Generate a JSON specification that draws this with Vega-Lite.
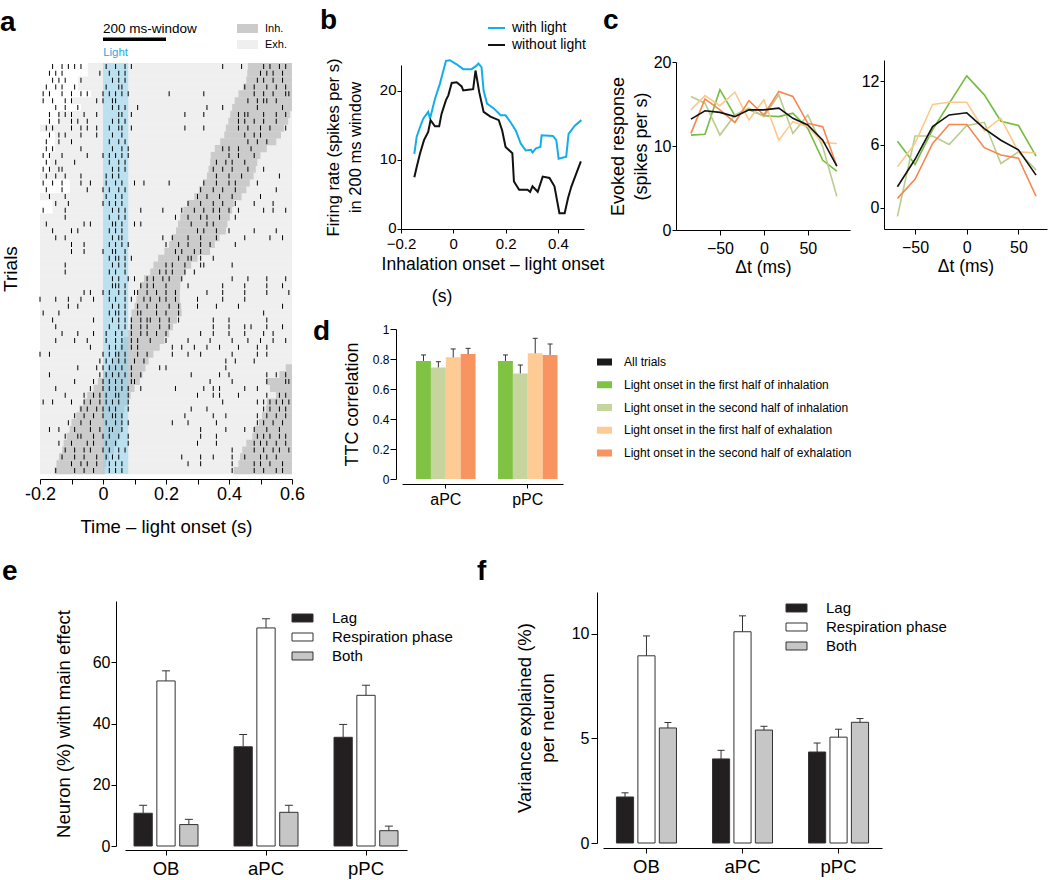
{
  "$schema": "https://vega.github.io/schema/vega-lite/v6.json",
  "width": 1050,
  "height": 880,
  "autosize": {"type": "none"},
  "padding": 0,
  "background": "white",
  "config": {
    "font": "Liberation Sans",
    "view": {"stroke": null},
    "axis": {"grid": false, "domainColor": "#000", "tickColor": "#000", "labelColor": "#000", "titleColor": "#000", "titleFontWeight": "normal", "minExtent": 0, "maxExtent": 300, "labelFlush": false, "labelOverlap": false, "titleFont": "Liberation Sans", "labelFont": "Liberation Sans"},
    "legend": {"padding": 0, "labelColor": "#000", "labelFont": "Liberation Sans", "labelLimit": 400}
  },
  "datasets": {
    "rast": [
      {"tr":1,"ex":-0.048,"i0":0.46,"i1":0.6,"sp":[-0.16,-0.13,-0.11,-0.09,-0.07,0.01,0.04,0.07,0.09,0.38,0.44,0.51,0.53,0.56,0.58]},
      {"tr":2,"ex":-0.048,"i0":0.458,"i1":0.6,"sp":[-0.17,-0.15,-0.13,-0.01,0.02,0.05,0.07,0.5,0.52,0.54,0.57]},
      {"tr":3,"ex":-0.079,"i0":0.455,"i1":0.6,"sp":[-0.16,-0.14,-0.12,-0.07,0.03,0.05,0.07,0.49,0.51,0.54,0.57]},
      {"tr":4,"ex":-0.079,"i0":0.445,"i1":0.6,"sp":[-0.18,-0.15,-0.13,-0.09,0.01,0.05,0.06,0.45,0.48,0.52,0.55,0.58]},
      {"tr":5,"ex":-0.038,"i0":0.43,"i1":0.6,"sp":[-0.19,-0.17,-0.13,-0.1,-0.07,-0.05,0.0,0.02,0.04,0.06,0.08,0.21,0.32,0.48,0.51,0.54,0.58,0.59]},
      {"tr":6,"ex":-0.1,"i0":0.418,"i1":0.6,"sp":[-0.19,-0.16,-0.12,-0.1,-0.02,0.0,0.03,0.04,0.46,0.49,0.51,0.52,0.55]},
      {"tr":7,"ex":-0.07,"i0":0.41,"i1":0.6,"sp":[-0.15,-0.12,-0.08,0.03,0.05,0.07,0.11,0.33,0.38,0.49,0.57]},
      {"tr":8,"ex":-0.143,"i0":0.404,"i1":0.594,"sp":[-0.17,-0.14,-0.12,-0.1,-0.06,-0.02,0.05,0.06,0.09,0.26,0.32,0.43,0.45,0.46,0.51,0.55,0.58]},
      {"tr":9,"ex":-0.143,"i0":0.398,"i1":0.588,"sp":[-0.17,-0.14,-0.1,-0.08,-0.05,0.03,0.05,0.07,0.43,0.45,0.48,0.51,0.55]},
      {"tr":10,"ex":-0.2,"i0":0.39,"i1":0.575,"sp":[-0.18,-0.16,-0.1,-0.07,-0.05,-0.02,0.02,0.05,0.06,0.09,0.26,0.32,0.43,0.46,0.5,0.53,0.58]},
      {"tr":11,"ex":-0.152,"i0":0.385,"i1":0.565,"sp":[-0.17,-0.14,-0.12,-0.07,-0.02,0.03,0.06,0.45,0.48,0.5]},
      {"tr":12,"ex":-0.152,"i0":0.372,"i1":0.55,"sp":[-0.18,-0.14,-0.1,0.02,0.05,0.07,0.46,0.49,0.52]},
      {"tr":13,"ex":-0.152,"i0":0.355,"i1":0.52,"sp":[-0.18,-0.16,-0.07,0.03,0.06,0.08,0.38,0.4,0.43,0.47]},
      {"tr":14,"ex":-0.168,"i0":0.342,"i1":0.5,"sp":[-0.19,-0.17,-0.13,-0.05,0.0,0.02,0.04,0.06,0.08,0.4,0.43,0.48]},
      {"tr":15,"ex":-0.168,"i0":0.34,"i1":0.49,"sp":[-0.18,-0.15,-0.09,0.02,0.05,0.07,0.36,0.39,0.41,0.45]},
      {"tr":16,"ex":-0.168,"i0":0.335,"i1":0.485,"sp":[-0.19,-0.17,-0.14,-0.13,0.03,0.05,0.07,0.35,0.38,0.41,0.46,0.51]},
      {"tr":17,"ex":-0.2,"i0":0.33,"i1":0.478,"sp":[-0.18,-0.15,-0.12,-0.07,0.01,0.03,0.05,0.36,0.4,0.44,0.56]},
      {"tr":18,"ex":-0.105,"i0":0.318,"i1":0.466,"sp":[-0.19,-0.16,-0.13,-0.07,-0.04,0.01,0.04,0.06,0.1,0.13,0.21,0.32,0.36,0.4,0.42,0.49]},
      {"tr":19,"ex":-0.105,"i0":0.305,"i1":0.455,"sp":[-0.18,-0.13,-0.05,0.0,0.02,0.05,0.07,0.31,0.35,0.38,0.42,0.55]},
      {"tr":20,"ex":-0.2,"i0":0.29,"i1":0.44,"sp":[-0.17,-0.12,0.01,0.04,0.06,0.3,0.33,0.37,0.41,0.5]},
      {"tr":21,"ex":-0.16,"i0":0.268,"i1":0.415,"sp":[-0.15,-0.11,0.0,0.02,0.04,0.06,0.27,0.31,0.35,0.38,0.42,0.48,0.54]},
      {"tr":22,"ex":-0.16,"i0":0.255,"i1":0.41,"sp":[-0.19,-0.12,0.03,0.05,0.07,0.12,0.19,0.25,0.29,0.32,0.35,0.37,0.4,0.43,0.51,0.54,0.58]},
      {"tr":23,"ex":-0.2,"i0":0.245,"i1":0.403,"sp":[-0.12,0.02,0.05,0.07,0.23,0.27,0.31,0.33,0.37,0.42]},
      {"tr":24,"ex":-0.2,"i0":0.238,"i1":0.395,"sp":[-0.18,-0.06,-0.04,0.03,0.04,0.06,0.1,0.12,0.28,0.33,0.35]},
      {"tr":25,"ex":-0.2,"i0":0.232,"i1":0.39,"sp":[-0.16,-0.1,-0.08,0.02,0.04,0.06,0.3,0.32,0.36,0.4,0.48,0.55]},
      {"tr":26,"ex":-0.2,"i0":0.22,"i1":0.37,"sp":[-0.15,-0.12,0.03,0.05,0.06,0.19,0.22,0.27,0.31,0.36,0.45,0.53,0.57]},
      {"tr":27,"ex":-0.2,"i0":0.21,"i1":0.355,"sp":[-0.1,-0.06,0.02,0.04,0.06,0.08,0.2,0.24,0.27,0.31,0.34,0.42]},
      {"tr":28,"ex":-0.2,"i0":0.195,"i1":0.34,"sp":[-0.1,-0.06,0.0,0.03,0.04,0.07,0.23,0.25,0.29,0.31]},
      {"tr":29,"ex":-0.2,"i0":0.175,"i1":0.3,"sp":[0.02,0.04,0.05,0.07,0.09,0.24,0.27,0.28,0.31,0.35]},
      {"tr":30,"ex":-0.2,"i0":0.16,"i1":0.28,"sp":[-0.12,0.03,0.05,0.07,0.2,0.22,0.26,0.31,0.32,0.41]},
      {"tr":31,"ex":-0.2,"i0":0.15,"i1":0.262,"sp":[-0.12,0.02,0.04,0.07,0.18,0.2,0.22,0.26,0.29]},
      {"tr":32,"ex":-0.2,"i0":0.13,"i1":0.25,"sp":[0.03,0.05,0.08,0.1,0.14,0.16,0.19,0.21,0.25,0.41,0.46,0.52,0.58]},
      {"tr":33,"ex":-0.2,"i0":0.118,"i1":0.245,"sp":[0.03,0.04,0.05,0.07,0.12,0.14,0.16,0.2,0.27,0.38,0.45,0.52,0.57]},
      {"tr":34,"ex":-0.2,"i0":0.112,"i1":0.244,"sp":[-0.06,-0.04,0.0,0.02,0.05,0.07,0.1,0.11,0.14,0.17,0.2,0.23,0.33,0.38,0.45,0.52,0.59]},
      {"tr":35,"ex":-0.2,"i0":0.106,"i1":0.244,"sp":[-0.2,-0.15,-0.11,-0.07,-0.03,0.02,0.04,0.07,0.09,0.13,0.15,0.18,0.2,0.23,0.3,0.38,0.45]},
      {"tr":36,"ex":-0.2,"i0":0.1,"i1":0.248,"sp":[-0.11,-0.08,0.03,0.05,0.07,0.11,0.14,0.17,0.21,0.24,0.3,0.36,0.43,0.57]},
      {"tr":37,"ex":-0.2,"i0":0.09,"i1":0.25,"sp":[-0.19,-0.14,0.02,0.04,0.05,0.07,0.11,0.12,0.17,0.2,0.24,0.51]},
      {"tr":38,"ex":-0.2,"i0":0.088,"i1":0.235,"sp":[-0.16,-0.03,0.03,0.05,0.07,0.09,0.12,0.14,0.15,0.18,0.21,0.24,0.35,0.4,0.52]},
      {"tr":39,"ex":-0.2,"i0":0.085,"i1":0.222,"sp":[-0.15,0.02,0.05,0.07,0.09,0.12,0.14,0.18,0.21,0.35,0.4,0.45,0.47,0.52,0.57]},
      {"tr":40,"ex":-0.2,"i0":0.08,"i1":0.21,"sp":[-0.13,-0.08,-0.03,0.01,0.04,0.06,0.09,0.12,0.14,0.17,0.2,0.31,0.35,0.4,0.45,0.51,0.54]},
      {"tr":41,"ex":-0.2,"i0":0.065,"i1":0.195,"sp":[-0.15,-0.09,-0.05,0.01,0.04,0.06,0.09,0.11,0.15,0.2,0.27,0.34,0.41,0.46,0.5,0.54,0.58]},
      {"tr":42,"ex":-0.2,"i0":0.053,"i1":0.18,"sp":[-0.04,0.02,0.04,0.06,0.09,0.11,0.22,0.25,0.29,0.33,0.37,0.43,0.49,0.52]},
      {"tr":43,"ex":-0.2,"i0":0.04,"i1":0.16,"sp":[-0.2,-0.17,0.0,0.02,0.04,0.05,0.07,0.11,0.14,0.22,0.27,0.31,0.41,0.49,0.52]},
      {"tr":44,"ex":-0.2,"i0":0.028,"i1":0.145,"sp":[-0.01,0.01,0.03,0.05,0.07,0.1,0.13,0.39,0.42,0.48]},
      {"tr":45,"ex":-0.2,"i0":0.018,"i1":0.135,"j0":0.58,"sp":[-0.08,-0.02,0.0,0.02,0.04,0.06,0.09,0.18,0.2,0.39]},
      {"tr":46,"ex":-0.2,"i0":0.0,"i1":0.125,"j0":0.56,"sp":[-0.17,-0.01,0.01,0.03,0.05,0.07,0.09,0.12,0.28,0.37,0.4,0.52,0.55,0.58]},
      {"tr":47,"ex":-0.2,"i0":-0.016,"i1":0.117,"j0":0.517,"sp":[-0.09,-0.03,0.0,0.02,0.04,0.06,0.09,0.1,0.34,0.41,0.52,0.58,0.59]},
      {"tr":48,"ex":-0.2,"i0":-0.03,"i1":0.1,"j0":0.53,"sp":[-0.15,-0.04,0.0,0.02,0.04,0.06,0.08,0.12,0.23,0.32,0.35,0.37,0.45,0.49]},
      {"tr":49,"ex":-0.2,"i0":-0.05,"i1":0.088,"j0":0.549,"sp":[-0.12,-0.06,-0.03,-0.01,0.01,0.04,0.05,0.08,0.3,0.35,0.37,0.43,0.52,0.56,0.58]},
      {"tr":50,"ex":-0.2,"i0":-0.06,"i1":0.078,"j0":0.52,"sp":[-0.19,-0.16,-0.1,-0.06,-0.04,-0.01,0.01,0.03,0.05,0.08,0.38,0.49,0.51,0.53,0.55,0.57,0.59]},
      {"tr":51,"ex":-0.2,"i0":-0.075,"i1":0.068,"j0":0.517,"sp":[-0.07,-0.05,-0.02,0.0,0.02,0.04,0.08,0.28,0.33,0.51,0.53,0.56,0.58]},
      {"tr":52,"ex":-0.2,"i0":-0.085,"i1":0.064,"j0":0.505,"sp":[-0.09,-0.06,-0.03,0.0,0.03,0.04,0.06,0.26,0.35,0.39,0.49,0.52,0.55,0.58]},
      {"tr":53,"ex":-0.2,"i0":-0.1,"i1":0.06,"j0":0.495,"sp":[-0.11,-0.07,-0.04,0.01,0.04,0.06,0.08,0.22,0.27,0.36,0.49,0.51,0.54,0.57]},
      {"tr":54,"ex":-0.2,"i0":-0.106,"i1":0.058,"j0":0.48,"sp":[-0.17,-0.14,-0.09,-0.04,-0.01,0.02,0.03,0.06,0.31,0.39,0.45,0.48,0.52,0.56]},
      {"tr":55,"ex":-0.2,"i0":-0.115,"i1":0.052,"j0":0.474,"sp":[-0.12,-0.08,-0.07,-0.03,0.0,0.02,0.05,0.08,0.31,0.36,0.49,0.51,0.53,0.56,0.58]},
      {"tr":56,"ex":-0.2,"i0":-0.125,"i1":0.045,"j0":0.455,"sp":[-0.14,-0.1,-0.05,-0.03,0.01,0.04,0.08,0.3,0.36,0.48,0.5,0.52,0.55,0.58]},
      {"tr":57,"ex":-0.2,"i0":-0.13,"i1":0.035,"j0":0.442,"sp":[-0.12,-0.09,-0.06,-0.04,0.0,0.02,0.05,0.07,0.41,0.48,0.51,0.54,0.56,0.59]},
      {"tr":58,"ex":-0.2,"i0":-0.14,"i1":0.02,"j0":0.435,"sp":[-0.13,-0.09,-0.06,-0.02,0.01,0.03,0.05,0.25,0.31,0.35,0.41,0.45,0.5,0.52,0.55]},
      {"tr":59,"ex":-0.2,"i0":-0.148,"i1":0.01,"j0":0.43,"sp":[-0.1,-0.07,-0.05,-0.02,0.02,0.04,0.06,0.27,0.31,0.41,0.48,0.5,0.53,0.57]},
      {"tr":60,"ex":-0.2,"i0":-0.154,"i1":0.005,"j0":0.415,"sp":[-0.15,-0.09,-0.06,-0.03,0.02,0.04,0.06,0.41,0.48,0.51,0.55,0.57]}
    ],
    "lineB": [
      {"s":"with light","x":[-0.149,-0.14,-0.127,-0.115,-0.096,-0.089,-0.07,-0.051,-0.028,-0.013,0.013,0.038,0.07,0.089,0.096,0.103,0.108,0.116,0.129,0.155,0.181,0.2,0.219,0.239,0.258,0.277,0.297,0.303,0.316,0.333,0.338,0.381,0.394,0.403,0.432,0.441,0.465,0.49],
       "y":[10.9,13.4,14.8,16.0,17.0,16.0,18.9,21.1,24.4,24.5,23.9,23.2,23.2,23.7,24.0,23.7,23.5,20.1,18.2,17.5,16.5,16.5,15.5,14.3,12.4,11.4,11.5,11.1,11.7,11.9,13.6,13.5,12.9,10.2,10.5,13.8,15.0,15.8]},
      {"s":"without light","x":[-0.149,-0.14,-0.127,-0.112,-0.096,-0.087,-0.07,-0.054,-0.045,-0.028,-0.019,-0.006,0.013,0.032,0.038,0.057,0.076,0.085,0.092,0.099,0.116,0.142,0.174,0.187,0.2,0.226,0.232,0.252,0.284,0.294,0.303,0.323,0.342,0.368,0.387,0.406,0.426,0.439,0.452,0.471,0.488],
       "y":[7.5,9.0,11.0,12.9,14.1,15.8,14.9,14.9,16.7,18.7,19.4,21.2,21.3,20.7,20.1,20.2,20.3,23.0,21.5,19.9,17.0,16.3,15.8,14.3,11.9,11.0,6.9,5.7,5.7,5.4,6.2,5.4,7.6,7.4,6.2,2.3,2.3,4.5,6.2,8.1,9.8]}
    ],
    "c1": [
      {"cat":"Light onset in the first half of inhalation","dt":[-83,-67,-50,-33,-17,0,17,33,50,67,83],"v":[11.3,11.4,16.7,13.6,14.3,13.6,13.5,13.9,12.1,8.3,7.0]},
      {"cat":"Light onset in the second half of inhalation","dt":[-83,-67,-50,-33,-17,0,17,33,50,67,83],"v":[15.9,15.1,11.3,13.7,14.5,13.5,16.1,11.5,13.7,9.9,4.0]},
      {"cat":"Light onset in the first half of exhalation","dt":[-83,-67,-50,-33,-17,0,17,33,50,67,83],"v":[14.3,16.0,14.8,16.4,13.1,15.5,10.7,12.9,12.3,10.4,10.3]},
      {"cat":"Light onset in the second half of exhalation","dt":[-83,-67,-50,-33,-17,0,17,33,50,67,83],"v":[11.5,15.6,14.3,12.8,15.4,13.7,16.5,15.9,12.7,12.3,7.6]},
      {"cat":"All trials","dt":[-83,-67,-50,-33,-17,0,17,33,50,67,83],"v":[13.2,14.2,14.0,13.5,14.3,14.3,14.5,13.3,12.5,10.7,7.6]}
    ],
    "c2": [
      {"cat":"Light onset in the first half of inhalation","dt":[-67,-50,-33,-17,0,17,33,50,67],"v":[6.3,4.1,7.4,9.9,12.5,10.7,8.2,7.8,4.9]},
      {"cat":"Light onset in the second half of inhalation","dt":[-67,-50,-33,-17,0,17,33,50,67],"v":[-0.8,6.8,6.8,6.0,7.8,8.1,4.2,5.3,3.6]},
      {"cat":"Light onset in the first half of exhalation","dt":[-67,-50,-33,-17,0,17,33,50,67],"v":[3.9,6.1,9.8,10.0,10.0,7.3,8.5,5.3,5.2]},
      {"cat":"Light onset in the second half of exhalation","dt":[-67,-50,-33,-17,0,17,33,50,67],"v":[0.9,2.7,6.1,7.9,7.9,5.7,5.0,4.7,1.1]},
      {"cat":"All trials","dt":[-67,-50,-33,-17,0,17,33,50,67],"v":[2.0,4.6,7.7,8.8,9.0,7.5,6.4,5.5,3.1]}
    ],
    "dBars": [
      {"g":"aPC","cat":"Light onset in the first half of inhalation","v":0.787,"e":0.827},
      {"g":"aPC","cat":"Light onset in the second half of inhalation","v":0.744,"e":0.782},
      {"g":"aPC","cat":"Light onset in the first half of exhalation","v":0.811,"e":0.867},
      {"g":"aPC","cat":"Light onset in the second half of exhalation","v":0.833,"e":0.871},
      {"g":"pPC","cat":"Light onset in the first half of inhalation","v":0.787,"e":0.827},
      {"g":"pPC","cat":"Light onset in the second half of inhalation","v":0.704,"e":0.76},
      {"g":"pPC","cat":"Light onset in the first half of exhalation","v":0.838,"e":0.938},
      {"g":"pPC","cat":"Light onset in the second half of exhalation","v":0.827,"e":0.9}
    ],
    "eBars": [
      {"g":"OB","s":"Lag","v":10.7,"e":13.3},
      {"g":"OB","s":"Respiration phase","v":53.9,"e":57.2},
      {"g":"OB","s":"Both","v":7.0,"e":8.7},
      {"g":"aPC","s":"Lag","v":32.4,"e":36.4},
      {"g":"aPC","s":"Respiration phase","v":71.2,"e":74.2},
      {"g":"aPC","s":"Both","v":11.0,"e":13.3},
      {"g":"pPC","s":"Lag","v":35.5,"e":39.7},
      {"g":"pPC","s":"Respiration phase","v":49.2,"e":52.5},
      {"g":"pPC","s":"Both","v":5.0,"e":6.5}
    ],
    "fBars": [
      {"g":"OB","s":"Lag","v":2.2,"e":2.4},
      {"g":"OB","s":"Respiration phase","v":8.95,"e":9.9},
      {"g":"OB","s":"Both","v":5.5,"e":5.76},
      {"g":"aPC","s":"Lag","v":4.02,"e":4.43},
      {"g":"aPC","s":"Respiration phase","v":10.1,"e":10.86},
      {"g":"aPC","s":"Both","v":5.4,"e":5.58},
      {"g":"pPC","s":"Lag","v":4.35,"e":4.78},
      {"g":"pPC","s":"Respiration phase","v":5.06,"e":5.44},
      {"g":"pPC","s":"Both","v":5.77,"e":5.95}
    ]
  },
  "layer": [
    {
      "layer": [
        {
          "data": {"name": "rast"},
          "mark": {"type": "bar", "orient": "horizontal", "size": 7.1},
          "encoding": {
            "y": {"field": "tr", "type": "quantitative", "scale": {"domain": [0.5, 60.5], "range": [58, 479], "nice": false, "zero": false},
                  "axis": {"orient": "left", "offset": -40, "domain": false, "ticks": false, "labels": false, "title": "Trials", "titleFontSize": 19, "titlePadding": 20}},
            "x": {"field": "ex", "type": "quantitative", "scale": {"domain": [-0.2, 0.6], "range": [40, 292], "nice": false, "zero": false},
                  "axis": {"orient": "bottom", "offset": -401, "values": [-0.2,-0.1,0,0.1,0.2,0.3,0.4,0.5,0.6], "labelExpr": "abs(round(datum.value*10)) % 2 == 1 ? '' : (datum.value < 0 ? '-' + format(-datum.value, '~g') : format(datum.value, '~g'))", "tickSize": 5, "labelPadding": 1, "labelFontSize": 18, "title": "Time – light onset (s)", "titleFontSize": 18.5, "titlePadding": 14}},
            "x2": {"datum": 0.6},
            "color": {"datum": "Exh.", "type": "nominal", "scale": {"domain": ["Inh.", "Exh."], "range": ["#cbcbcb", "#efefef"]},
                      "legend": {"orient": "none", "legendX": 237, "legendY": 18, "title": null, "symbolType": "M-1,-0.43H1V0.43H-1Z", "symbolSize": 441, "symbolStrokeWidth": 0, "labelFontSize": 11, "labelOffset": 7, "rowPadding": -7}}
          }
        },
        {
          "data": {"name": "rast"},
          "mark": {"type": "bar", "orient": "horizontal", "size": 7.1},
          "encoding": {
            "y": {"field": "tr", "type": "quantitative"},
            "x": {"field": "i0", "type": "quantitative"},
            "x2": {"field": "i1"},
            "color": {"datum": "Inh.", "type": "nominal"}
          }
        },
        {
          "data": {"name": "rast"},
          "transform": [{"filter": "isValid(datum.j0)"}],
          "mark": {"type": "bar", "orient": "horizontal", "size": 7.1},
          "encoding": {
            "y": {"field": "tr", "type": "quantitative"},
            "x": {"field": "j0", "type": "quantitative"},
            "x2": {"datum": 0.6},
            "color": {"datum": "Inh.", "type": "nominal"}
          }
        },
        {
          "data": {"values": [{"on": 0, "off": 0.08}]},
          "mark": {"type": "rect", "fill": "#8fd3ee", "opacity": 0.55},
          "encoding": {
            "x": {"field": "on", "type": "quantitative"},
            "x2": {"field": "off"},
            "y": {"datum": 0.5, "type": "quantitative"},
            "y2": {"datum": 60.5}
          }
        },
        {
          "data": {"name": "rast"},
          "transform": [{"flatten": ["sp"], "as": ["s"]}],
          "mark": {"type": "tick", "orient": "vertical", "size": 5, "thickness": 1, "color": "#000", "opacity": 1},
          "encoding": {
            "x": {"field": "s", "type": "quantitative"},
            "y": {"field": "tr", "type": "quantitative"}
          }
        },
        {
          "data": {"values": [{"t0": 0, "t1": 0.2, "tr": -2.96}]},
          "mark": {"type": "rule", "color": "#000", "strokeWidth": 3.5},
          "encoding": {
            "x": {"field": "t0", "type": "quantitative"},
            "x2": {"field": "t1"},
            "y": {"field": "tr", "type": "quantitative"}
          }
        },
        {
          "data": {"values": [{"txt": "200 ms-window", "t": 0, "tr": -3.92}]},
          "mark": {"type": "text", "align": "left", "baseline": "alphabetic", "fontSize": 13.5, "color": "#000"},
          "encoding": {"x": {"field": "t", "type": "quantitative"}, "y": {"field": "tr", "type": "quantitative"}, "text": {"field": "txt"}}
        },
        {
          "data": {"values": [{"txt": "Light", "t": 0.04, "tr": -0.47}]},
          "mark": {"type": "text", "align": "center", "baseline": "alphabetic", "fontSize": 11.5, "color": "#29abe2"},
          "encoding": {"x": {"field": "t", "type": "quantitative"}, "y": {"field": "tr", "type": "quantitative"}, "text": {"field": "txt"}}
        },
        {
          "data": {"values": [
            {"L": "a", "t": -0.327, "tr": -4.2},
            {"L": "b", "t": 0.689, "tr": -4.49},
            {"L": "c", "t": 1.587, "tr": -4.49},
            {"L": "d", "t": 0.667, "tr": 40.98},
            {"L": "e", "t": -0.321, "tr": 76.03},
            {"L": "f", "t": 1.187, "tr": 76.03}
          ]},
          "mark": {"type": "text", "align": "left", "baseline": "alphabetic", "fontSize": 28, "fontWeight": "bold", "color": "#000"},
          "encoding": {"x": {"field": "t", "type": "quantitative"}, "y": {"field": "tr", "type": "quantitative"}, "text": {"field": "L"}}
        }
      ]
    },
    {
      "layer": [
        {
          "data": {"name": "lineB"},
          "transform": [{"flatten": ["x", "y"], "as": ["xv", "yv"]}],
          "mark": {"type": "line", "strokeWidth": 2},
          "encoding": {
            "x": {"field": "xv", "type": "quantitative", "scale": {"domain": [-0.2, 0.5], "range": [401, 584], "nice": false, "zero": false},
                  "axis": {"orient": "bottom", "offset": -651, "values": [-0.2, 0, 0.2, 0.4], "labelExpr": "format(datum.value, '~g')", "tickSize": 4, "labelPadding": 3, "labelFontSize": 15, "title": "Inhalation onset – light onset", "titleFontSize": 17.5, "titlePadding": 4}},
            "y": {"field": "yv", "type": "quantitative", "scale": {"domain": [0, 23.8], "range": [229, 65], "nice": false, "zero": false},
                  "axis": {"orient": "left", "offset": -401, "values": [0, 10, 20], "labelExpr": "format(datum.value, '~g')", "labelOffset": -1.5, "tickSize": 4, "labelPadding": 1, "labelFontSize": 15, "title": ["Firing rate (spikes per s)", "in 200 ms window"], "titleFontSize": 16.5, "titleLineHeight": 22, "titlePadding": 16}},
            "color": {"field": "s", "type": "nominal", "scale": {"domain": ["with light", "without light"], "range": ["#13aee8", "#111111"]},
                      "legend": {"orient": "none", "legendX": 487, "legendY": 18.5, "title": null, "symbolType": "stroke", "symbolSize": 289, "symbolStrokeWidth": 2, "labelFontSize": 14, "labelOffset": 6, "rowPadding": -4}}
          }
        },
        {
          "data": {"values": [{"txt": "(s)", "xv": -0.043, "yv": -9.86}]},
          "mark": {"type": "text", "align": "center", "baseline": "middle", "fontSize": 17.5, "color": "#000"},
          "encoding": {"x": {"field": "xv", "type": "quantitative"}, "y": {"field": "yv", "type": "quantitative"}, "text": {"field": "txt"}}
        }
      ]
    },
    {
      "data": {"name": "c1"},
      "transform": [{"flatten": ["dt", "v"]}],
      "mark": {"type": "line", "strokeWidth": 1.6},
      "encoding": {
        "x": {"field": "dt", "type": "quantitative", "scale": {"domain": [-100, 98], "range": [676, 850], "nice": false, "zero": false},
              "axis": {"orient": "bottom", "offset": -650, "values": [-50, 0, 50], "labelExpr": "format(datum.value, '~g')", "tickSize": 5, "labelPadding": 5, "labelFontSize": 16, "title": "Δt (ms)", "titleFontSize": 17.5, "titlePadding": 2}},
        "y": {"field": "v", "type": "quantitative", "scale": {"domain": [0, 20], "range": [230, 62], "nice": false, "zero": false},
              "axis": {"orient": "left", "offset": -676, "values": [0, 10, 20], "labelExpr": "format(datum.value, '~g')", "tickSize": 4, "labelPadding": 1, "labelFontSize": 16, "title": ["Evoked response", "(spikes per s)"], "titleFontSize": 18, "titleLineHeight": 23, "titlePadding": 3}},
        "color": {"field": "cat", "type": "nominal", "legend": null,
                  "scale": {"domain": ["All trials", "Light onset in the first half of inhalation", "Light onset in the second half of inhalation", "Light onset in the first half of exhalation", "Light onset in the second half of exhalation"],
                            "range": ["#111111", "#74bd3f", "#b9cc8c", "#fdc88c", "#f5874f"]}}
      }
    },
    {
      "data": {"name": "c2"},
      "transform": [{"flatten": ["dt", "v"]}],
      "mark": {"type": "line", "strokeWidth": 1.6},
      "encoding": {
        "x": {"field": "dt", "type": "quantitative", "scale": {"domain": [-80, 77.6], "range": [884, 1047], "nice": false, "zero": false},
              "axis": {"orient": "bottom", "offset": -651, "values": [-50, 0, 50], "labelExpr": "format(datum.value, '~g')", "tickSize": 5, "labelPadding": 5, "labelFontSize": 16, "title": "Δt (ms)", "titleFontSize": 17.5, "titlePadding": 2}},
        "y": {"field": "v", "type": "quantitative", "scale": {"domain": [-2, 14], "range": [229, 60], "nice": false, "zero": false},
              "axis": {"orient": "left", "offset": -884, "values": [0, 6, 12], "labelExpr": "format(datum.value, '~g')", "tickSize": 4, "labelPadding": 1, "labelFontSize": 16, "title": null}},
        "color": {"field": "cat", "type": "nominal", "legend": null,
                  "scale": {"domain": ["All trials", "Light onset in the first half of inhalation", "Light onset in the second half of inhalation", "Light onset in the first half of exhalation", "Light onset in the second half of exhalation"],
                            "range": ["#111111", "#74bd3f", "#b9cc8c", "#fdc88c", "#f5874f"]}}
      }
    },
    {
      "data": {"name": "dBars"},
      "layer": [
        {
          "mark": {"type": "bar"},
          "encoding": {
            "x": {"field": "g", "type": "nominal", "scale": {"domain": ["aPC", "pPC"], "range": [402, 563], "paddingInner": 0.274, "paddingOuter": 0.119, "align": 0.72},
                  "axis": {"orient": "bottom", "offset": -396, "tickSize": 4, "labelPadding": 3, "labelFontSize": 16, "labelAngle": 0, "title": null}},
            "xOffset": {"field": "cat", "type": "nominal", "scale": {"domain": ["Light onset in the first half of inhalation", "Light onset in the second half of inhalation", "Light onset in the first half of exhalation", "Light onset in the second half of exhalation"], "paddingInner": 0, "paddingOuter": 0}},
            "y": {"field": "v", "type": "quantitative", "scale": {"domain": [0, 1], "range": [479, 329], "nice": false},
                  "axis": {"orient": "left", "offset": -396, "values": [0, 0.2, 0.4, 0.6, 0.8, 1], "labelExpr": "format(datum.value, '~g')", "tickSize": 6, "labelPadding": 1, "labelFontSize": 12, "title": "TTC correlation", "titleFontSize": 18, "titlePadding": 11}},
            "color": {"field": "cat", "type": "nominal",
                      "scale": {"domain": ["All trials", "Light onset in the first half of inhalation", "Light onset in the second half of inhalation", "Light onset in the first half of exhalation", "Light onset in the second half of exhalation"],
                                "range": ["#1a1a1a", "#80c342", "#c6d59d", "#fdcb93", "#f79460"]},
                      "legend": {"orient": "none", "legendX": 597, "legendY": 354.5, "title": null, "symbolType": "M-1,-0.467H1V0.467H-1Z", "symbolSize": 225, "symbolStrokeWidth": 0, "labelFontSize": 12, "labelOffset": 12, "rowPadding": 8.75}}
          }
        },
        {
          "mark": {"type": "rule", "color": "#333", "strokeWidth": 1},
          "encoding": {
            "x": {"field": "g", "type": "nominal"},
            "xOffset": {"field": "cat", "type": "nominal"},
            "y": {"field": "v", "type": "quantitative"},
            "y2": {"field": "e"}
          }
        },
        {
          "mark": {"type": "tick", "orient": "horizontal", "size": 5, "thickness": 1, "color": "#333", "opacity": 1},
          "encoding": {
            "x": {"field": "g", "type": "nominal"},
            "xOffset": {"field": "cat", "type": "nominal"},
            "y": {"field": "e", "type": "quantitative"}
          }
        }
      ]
    },
    {
      "data": {"name": "eBars"},
      "layer": [
        {
          "mark": {"type": "bar", "stroke": "#333", "strokeWidth": 1},
          "encoding": {
            "x": {"field": "g", "type": "nominal", "scale": {"domain": ["OB", "aPC", "pPC"], "range": [125, 407], "paddingInner": 0.36, "paddingOuter": 0.09},
                  "axis": {"orient": "bottom", "offset": -30, "tickSize": 5, "labelPadding": 4, "labelFontSize": 18.5, "labelAngle": 0, "title": null}},
            "xOffset": {"field": "s", "type": "nominal", "scale": {"domain": ["Lag", "Respiration phase", "Both"], "paddingInner": 0.2, "paddingOuter": 0}},
            "y": {"field": "v", "type": "quantitative", "scale": {"domain": [0, 80], "range": [846, 601], "nice": false},
                  "axis": {"orient": "left", "offset": -116, "values": [0, 20, 40, 60], "labelExpr": "format(datum.value, '~g')", "tickSize": 5, "labelPadding": 1, "labelFontSize": 16, "title": "Neuron (%) with main effect", "titleFontSize": 18.5, "titlePadding": 19}},
            "fill": {"field": "s", "type": "nominal", "scale": {"domain": ["Lag", "Respiration phase", "Both"], "range": ["#231f20", "#ffffff", "#c6c6c6"]},
                     "legend": {"orient": "none", "legendX": 291.5, "legendY": 607, "title": null, "symbolType": "M-1,-0.38H1V0.38H-1Z", "symbolSize": 441, "symbolStrokeColor": "#333", "symbolStrokeWidth": 1, "labelFontSize": 15, "labelOffset": 18.5, "rowPadding": -2}}
          }
        },
        {
          "mark": {"type": "rule", "color": "#333", "strokeWidth": 1},
          "encoding": {"x": {"field": "g", "type": "nominal"}, "xOffset": {"field": "s", "type": "nominal"}, "y": {"field": "v", "type": "quantitative"}, "y2": {"field": "e"}}
        },
        {
          "mark": {"type": "tick", "orient": "horizontal", "size": 8, "thickness": 1, "color": "#333", "opacity": 1},
          "encoding": {"x": {"field": "g", "type": "nominal"}, "xOffset": {"field": "s", "type": "nominal"}, "y": {"field": "e", "type": "quantitative"}}
        }
      ]
    },
    {
      "data": {"name": "fBars"},
      "layer": [
        {
          "mark": {"type": "bar", "stroke": "#333", "strokeWidth": 1},
          "encoding": {
            "x": {"field": "g", "type": "nominal", "scale": {"domain": ["OB", "aPC", "pPC"], "range": [603, 882], "paddingInner": 0.375, "paddingOuter": 0.14},
                  "axis": {"orient": "bottom", "offset": -32, "tickSize": 5, "labelPadding": 4, "labelFontSize": 18.5, "labelAngle": 0, "title": null}},
            "xOffset": {"field": "s", "type": "nominal", "scale": {"domain": ["Lag", "Respiration phase", "Both"], "paddingInner": 0.2, "paddingOuter": 0}},
            "y": {"field": "v", "type": "quantitative", "scale": {"domain": [0, 12], "range": [843, 592], "nice": false},
                  "axis": {"orient": "left", "offset": -597, "values": [0, 5, 10], "labelExpr": "format(datum.value, '~g')", "tickSize": 6, "labelPadding": 2, "labelFontSize": 16, "title": ["Variance explained (%)", "per neuron"], "titleFontSize": 18.5, "titleLineHeight": 23, "titlePadding": 14}},
            "fill": {"field": "s", "type": "nominal", "scale": {"domain": ["Lag", "Respiration phase", "Both"], "range": ["#231f20", "#ffffff", "#c6c6c6"]},
                     "legend": {"orient": "none", "legendX": 785.5, "legendY": 597, "title": null, "symbolType": "M-1,-0.38H1V0.38H-1Z", "symbolSize": 441, "symbolStrokeColor": "#333", "symbolStrokeWidth": 1, "labelFontSize": 15, "labelOffset": 18.5, "rowPadding": -2.5}}
          }
        },
        {
          "mark": {"type": "rule", "color": "#333", "strokeWidth": 1},
          "encoding": {"x": {"field": "g", "type": "nominal"}, "xOffset": {"field": "s", "type": "nominal"}, "y": {"field": "v", "type": "quantitative"}, "y2": {"field": "e"}}
        },
        {
          "mark": {"type": "tick", "orient": "horizontal", "size": 7, "thickness": 1, "color": "#333", "opacity": 1},
          "encoding": {"x": {"field": "g", "type": "nominal"}, "xOffset": {"field": "s", "type": "nominal"}, "y": {"field": "e", "type": "quantitative"}}
        }
      ]
    }
  ],
  "resolve": {
    "scale": {"x": "independent", "y": "independent", "color": "independent", "fill": "independent", "xOffset": "independent"},
    "axis": {"x": "independent", "y": "independent"},
    "legend": {"color": "independent", "fill": "independent"}
  }
}
